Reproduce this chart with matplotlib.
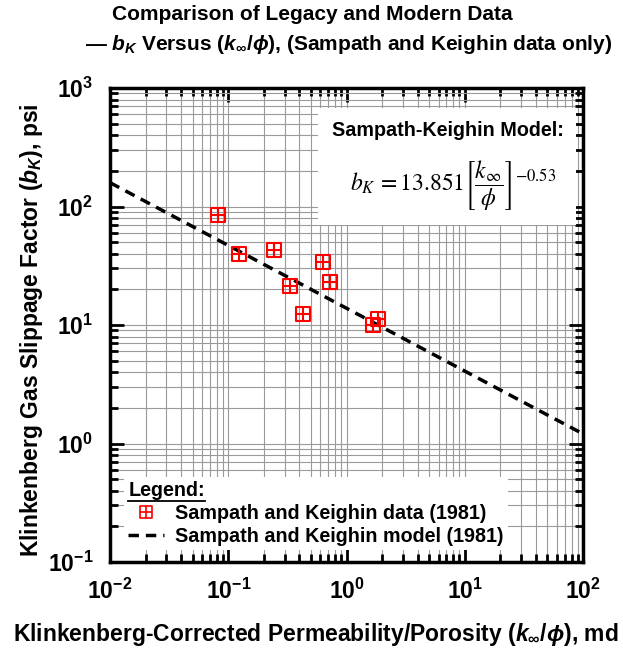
import numpy as np
import matplotlib
matplotlib.use("Agg")
import matplotlib.pyplot as plt
from matplotlib.path import Path
from matplotlib.lines import Line2D
from matplotlib.patches import Rectangle
from matplotlib.ticker import LogLocator, FuncFormatter, NullFormatter

plt.rcParams['font.family'] = ['Liberation Sans', 'DejaVu Sans']
plt.rcParams['mathtext.fontset'] = 'custom'
plt.rcParams['mathtext.rm'] = 'Liberation Sans:bold'
plt.rcParams['mathtext.it'] = 'Liberation Sans:italic:bold'
plt.rcParams['mathtext.bf'] = 'Liberation Sans:bold'

# Sampath and Keighin (1981) data, k_inf/phi (md) vs b_K (psi)
k_phi = [0.082, 0.124, 0.244, 0.333, 0.431, 0.63, 0.724, 1.86, 1.69]
b_k = [84.8, 39.7, 43.0, 21.5, 12.3, 34.2, 23.2, 11.2, 10.0]

# model b_K = 13.851 (k/phi)^-0.53
model_coef = 13.851
model_exp = -0.53
model_x = np.logspace(-2, 2, 200)
model_y = model_coef * model_x ** model_exp

# square with a cross inside
verts = [(-1, -1), (1, -1), (1, 1), (-1, 1), (-1, -1),
         (0, -1), (0, 1), (-1, 0), (1, 0)]
codes = [Path.MOVETO, Path.LINETO, Path.LINETO, Path.LINETO, Path.CLOSEPOLY,
         Path.MOVETO, Path.LINETO, Path.MOVETO, Path.LINETO]
box_cross = Path(verts, codes)

fig = plt.figure(figsize=(6.23, 6.52), dpi=100)
ax = fig.add_axes([0.1766, 0.138, 0.7592, 0.727])

ax.plot(model_x, model_y, color='black', ls=(0, (3, 2)), lw=2.5, zorder=3)
ax.plot(k_phi, b_k, ls='none', marker=box_cross, ms=10.5, mfc='none',
        mec='red', mew=1.5, zorder=4)

ax.set_xscale('log')
ax.set_yscale('log')
ax.set_xlim(1e-2, 1e2)
ax.set_ylim(1e-1, 1e3)

pow_fmt = FuncFormatter(lambda v, pos: r'$\mathbf{10^{%d}}$' % round(np.log10(v)))
for a in (ax.xaxis, ax.yaxis):
    a.set_major_locator(LogLocator(base=10, numticks=10))
    a.set_minor_locator(LogLocator(base=10, subs=np.arange(2, 10), numticks=20))
    a.set_major_formatter(pow_fmt)
    a.set_minor_formatter(NullFormatter())

ax.grid(True, which='both', color='#9a9a9a', lw=0.8)
ax.tick_params(which='both', direction='in', top=True, right=True, width=2)
ax.tick_params(which='major', length=10, labelsize=16.5, pad=12)
ax.tick_params(which='minor', length=6)
for s in ax.spines.values():
    s.set_linewidth(2.5)

ax.set_xlabel(r'Klinkenberg-Corrected Permeability/Porosity ($k_\infty/\phi$), md',
              fontsize=16.5, fontweight='bold')
ax.xaxis.set_label_coords(0.435, -0.125)
ax.set_ylabel(r'Klinkenberg Gas Slippage Factor ($b_K$), psi', fontsize=16.5,
              fontweight='bold')
ax.yaxis.set_label_coords(-0.137, 0.49)

fig.text(312 / 623, 1 - 15 / 652, 'Comparison of Legacy and Modern Data',
         ha='center', va='center', fontsize=15, fontweight='bold')
fig.text(349 / 623, 1 - 45 / 652,
         r'— $b_K$ Versus ($k_\infty/\phi$), (Sampath and Keighin data only)',
         ha='center', va='center', fontsize=15, fontweight='bold')

# model box
ax.add_patch(Rectangle((0.44, 0.71), 0.545, 0.248, transform=ax.transAxes,
                       facecolor='white', edgecolor='none', zorder=5))
ax.text(0.715, 0.91, 'Sampath-Keighin Model:', transform=ax.transAxes,
        ha='center', va='center', fontsize=14.2, fontweight='bold', zorder=6)
ax.text(0.726, 0.795,
        r'$b_K\,=13.851\left[\dfrac{k_\infty}{\phi}\right]^{-0.53}$',
        transform=ax.transAxes, ha='center', va='center', fontsize=17,
        math_fontfamily='stix', zorder=6)

handles = [Line2D([], [], ls='none', marker=box_cross, ms=8.5, mfc='none',
                  mec='red', mew=1.2),
           Line2D([], [], color='black', ls=(0, (3, 2)), lw=2.5)]
labels = ['Sampath and Keighin data (1981)', 'Sampath and Keighin model (1981)']
leg = ax.legend(handles, labels, loc='lower left', bbox_to_anchor=(0.03, 0.025),
                title='Legend:', alignment='left',
                prop={'weight': 'bold', 'size': 14.2},
                title_fontproperties={'weight': 'bold', 'size': 14.2},
                frameon=True, fancybox=False, framealpha=1, edgecolor='none',
                borderpad=0.2, labelspacing=0.2, handlelength=1.8,
                handletextpad=0.6, borderaxespad=0)
leg.set_zorder(6)

fig.canvas.draw()
tb = leg.get_title().get_window_extent()
inv = fig.transFigure.inverted()
(x0, y0), (x1, y1) = inv.transform([(tb.x0, tb.y0 - 1), (tb.x1, tb.y0 - 1)])
fig.add_artist(Line2D([x0, x1], [y0, y1], color='black', lw=1.3,
                      transform=fig.transFigure, zorder=10))

fig.savefig('out.png', dpi=100)
